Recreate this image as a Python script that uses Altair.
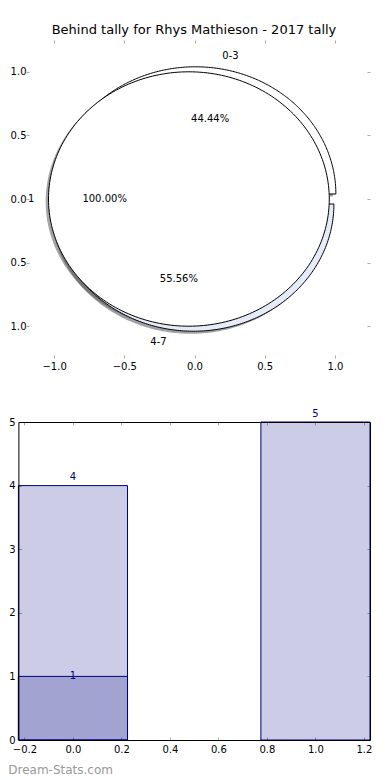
import altair as alt
import numpy as np
import pandas as pd

TITLE = "Behind tally for Rhys Mathieson - 2017 tally"
WATERMARK = "Dream-Stats.com"

# outer pie (drawn first) and inner pie (drawn on top)
outer_labels = ["0-3", "4-7"]
outer_values = [4, 5]
outer_colors = ["#ffffff", "#e5ebf9"]

inner_labels = ["1"]
inner_values = [1]
inner_colors = ["#ffffff"]

# bar panel
bar_x = [0, 1]
bar_heights = [4, 5]
overlay_x = [0]
overlay_heights = [1]

pie_ticks = [-1.0, -0.5, 0.0, 0.5, 1.0]
bar_xticks = [-0.2, 0.0, 0.2, 0.4, 0.6, 0.8, 1.0, 1.2]
bar_yticks = [0, 1, 2, 3, 4, 5]

EXPLODE = 0.04
SHADOW = 0.02
BAR_W = 0.45
FONT = "DejaVu Sans"
NAVY = "#000080"
TICK = "#aaaaaa"
W = 344
H = 318
SHIFT = 7.6  # bar panel frame sits left of the shared plot origin


def ring_rows(ring, labels, values, colors):
    total = float(sum(values))
    rows, start = [], 0.0
    for lab, val, col in zip(labels, values, colors):
        frac = val / total
        end = start + 360.0 * frac
        mid = np.deg2rad((start + end) / 2.0)
        rgb = [int(col[i:i + 2], 16) for i in (1, 3, 5)]
        shade = "#%02x%02x%02x" % tuple(int(round(0.3 * c)) for c in rgb)
        rows.append(dict(ring=ring, key=f"{ring}:{lab}", label=lab,
                         pct=f"{100 * frac:.2f}%", start=start, end=end,
                         full=int(frac > 0.999999),
                         ex=EXPLODE * np.cos(mid), ey=EXPLODE * np.sin(mid),
                         mc=np.cos(mid), ms=np.sin(mid), color=col, shade=shade))
        start = end
    return rows


pie_df = pd.DataFrame(ring_rows("outer", outer_labels, outer_values, outer_colors)
                      + ring_rows("inner", inner_labels, inner_values, inner_colors))

N = 240
geo = (alt.Chart(pie_df)
       .transform_calculate(idx=f"sequence(-1, {N + 2})")
       .transform_flatten(["idx"])
       .transform_calculate(ang=f"(datum.start + (datum.end - datum.start) * clamp(datum.idx, 0, {N}) / {N}) * PI / 180")
       .transform_calculate(rad=f"(datum.full == 0 && (datum.idx < 0 || datum.idx > {N})) ? 0 : 1")
       .transform_calculate(px="datum.ex + datum.rad * cos(datum.ang)")
       .transform_calculate(py="datum.ey + datum.rad * sin(datum.ang)")
       .transform_calculate(sx=f"datum.px - {SHADOW}")
       .transform_calculate(sy=f"datum.py - {SHADOW}"))

pie_xs = alt.Scale(domain=[1.25 - W / 140.4, 1.25], nice=False, zero=False)
pie_ys = alt.Scale(domain=[-1.25, 1.25], nice=False, zero=False)

label_axis = dict(title=None, domain=False, grid=False, ticks=False, tickSize=0, minExtent=0,
                  labelFont=FONT, labelFontSize=10, labelColor="black")
tick_axis = dict(title=None, domain=False, grid=False, labels=False, tickColor=TICK, tickSize=3,
                 minExtent=0, offset=-3)

pie_x_bottom = alt.Axis(orient="bottom", values=pie_ticks, format=".1f", labelPadding=3, **label_axis)
pie_y_left = alt.Axis(orient="left", values=pie_ticks, format=".1f",
                      labelExpr="format(abs(datum.value), '.1f')", labelAlign="left",
                      labelPadding=15.9, **label_axis)
pie_x_top = alt.Axis(orient="top", values=pie_ticks, **tick_axis)
pie_y_right = alt.Axis(orient="right", values=pie_ticks, **tick_axis)
pie_xt_bottom = alt.Axis(orient="bottom", values=pie_ticks, **tick_axis)
pie_yt_left = alt.Axis(orient="left", values=pie_ticks, **tick_axis)

shadows = geo.mark_line(strokeOpacity=0, fillOpacity=0.5).encode(
    x=alt.X("sx:Q", scale=pie_xs, axis=pie_x_bottom),
    y=alt.Y("sy:Q", scale=pie_ys, axis=pie_y_left),
    fill=alt.Fill("shade:N", scale=None),
    detail="key:N",
    order=alt.Order("idx:Q"),
)

outer = geo.transform_filter("datum.ring == 'outer'").mark_line(stroke="black", strokeWidth=1).encode(
    x=alt.X("px:Q", scale=pie_xs, axis=pie_x_top),
    y=alt.Y("py:Q", scale=pie_ys, axis=pie_y_right),
    fill=alt.Fill("color:N", scale=None),
    detail="key:N",
    order=alt.Order("idx:Q"),
)

inner = geo.transform_filter("datum.ring == 'inner'").mark_line(stroke="black", strokeWidth=1).encode(
    x=alt.X("px:Q", scale=pie_xs, axis=pie_xt_bottom),
    y=alt.Y("py:Q", scale=pie_ys, axis=pie_yt_left),
    fill=alt.Fill("color:N", scale=None),
    detail="key:N",
    order=alt.Order("idx:Q"),
)

lab_base = alt.Chart(pie_df).transform_calculate(
    lx="datum.ex + 1.1 * datum.mc", ly="datum.ey + 1.1 * datum.ms")
lab_r = lab_base.transform_filter("datum.lx >= 0").mark_text(
    align="left", baseline="middle", font=FONT, fontSize=10, color="black").encode(
    x=alt.X("lx:Q", scale=pie_xs, axis=None), y=alt.Y("ly:Q", scale=pie_ys, axis=None), text="label:N")
lab_l = lab_base.transform_filter("datum.lx < 0").mark_text(
    align="right", baseline="middle", font=FONT, fontSize=10, color="black").encode(
    x=alt.X("lx:Q", scale=pie_xs, axis=None), y=alt.Y("ly:Q", scale=pie_ys, axis=None), text="label:N")
pct = alt.Chart(pie_df).transform_calculate(
    tx="datum.ex + 0.6 * datum.mc", ty="datum.ey + 0.6 * datum.ms").mark_text(
    align="center", baseline="middle", font=FONT, fontSize=10, color="black").encode(
    x=alt.X("tx:Q", scale=pie_xs, axis=None), y=alt.Y("ty:Q", scale=pie_ys, axis=None), text="pct:N")

top = alt.layer(shadows, outer, inner, lab_r, lab_l, pct).resolve_axis(
    x="independent", y="independent").properties(
    width=W, height=H,
    title=alt.TitleParams(TITLE, font=FONT, fontSize=13, fontWeight="normal", color="black",
                          anchor="middle", offset=3, dx=-4),
    view=alt.ViewBackground(stroke="transparent"),
)

# ---- bar panel ----
bars_df = pd.DataFrame({"x": bar_x, "h": bar_heights})
over_df = pd.DataFrame({"x": overlay_x, "h": overlay_heights})

bxs = alt.Scale(domain=[-0.225, 1.225], range=[-SHIFT, W], nice=False, zero=False)
bys = alt.Scale(domain=[0, 5], nice=False)

spine = dict(title=None, grid=False, domain=True, domainColor="black", domainWidth=1,
             ticks=False, tickSize=0, zindex=1, minExtent=0,
             labelFont=FONT, labelFontSize=10, labelColor="black")
tickax = dict(title=None, grid=False, domain=False, labels=False, tickColor=TICK,
              tickSize=3, minExtent=0)

b_x_bottom = alt.Axis(orient="bottom", values=bar_xticks, format=".1f", labelPadding=4, **spine)
b_y_left = alt.Axis(orient="left", values=bar_yticks, format="d", labelPadding=3.3, offset=SHIFT, **spine)
b_x_top = alt.Axis(orient="top", values=bar_xticks, labels=False, **spine)
b_y_right = alt.Axis(orient="right", values=bar_yticks, labels=False, **spine)
t_x_bottom = alt.Axis(orient="bottom", values=bar_xticks, offset=-3, **tickax)
t_y_left = alt.Axis(orient="left", values=bar_yticks, offset=SHIFT - 3, **tickax)
t_x_top = alt.Axis(orient="top", values=bar_xticks, offset=-3, **tickax)
t_y_right = alt.Axis(orient="right", values=bar_yticks, offset=-3, **tickax)


def bar_layer(df, xaxis, yaxis):
    return alt.Chart(df).transform_calculate(
        x0=f"datum.x - {BAR_W / 2}", x1=f"datum.x + {BAR_W / 2}").mark_rect(
        fill=NAVY, fillOpacity=0.2, stroke=NAVY, strokeWidth=1).encode(
        x=alt.X("x0:Q", scale=bxs, axis=xaxis), x2="x1:Q",
        y=alt.Y("h:Q", scale=bys, axis=yaxis), y2=alt.datum(0))


bars = bar_layer(bars_df, b_x_bottom, b_y_left)
overlay = bar_layer(over_df, b_x_top, b_y_right)

bar_text = alt.Chart(bars_df).mark_text(
    align="center", baseline="alphabetic", dy=-5.5, font=FONT, fontSize=10, color=NAVY).encode(
    x=alt.X("x:Q", scale=bxs, axis=t_x_bottom), y=alt.Y("h:Q", scale=bys, axis=t_y_left), text="h:Q")
over_text = alt.Chart(over_df).mark_text(
    align="center", baseline="alphabetic", dy=3, font=FONT, fontSize=10, color=NAVY).encode(
    x=alt.X("x:Q", scale=bxs, axis=t_x_top), y=alt.Y("h:Q", scale=bys, axis=t_y_right), text="h:Q")

bottom = alt.layer(bars, overlay, bar_text, over_text).resolve_axis(
    x="independent", y="independent").properties(
    width=W, height=H,
    view=alt.ViewBackground(stroke="transparent"),
)

chart = alt.concat(
    top, bottom, columns=1, spacing=36,
    padding={"left": 0, "top": 15, "right": 0, "bottom": 0},
    title=alt.TitleParams(WATERMARK, orient="bottom", anchor="start", font=FONT, fontSize=12,
                          fontWeight="normal", color="#999999", offset=10),
    background="white",
).configure(font=FONT)

chart.save("out.html", embed_options={"renderer": "svg", "actions": False})
